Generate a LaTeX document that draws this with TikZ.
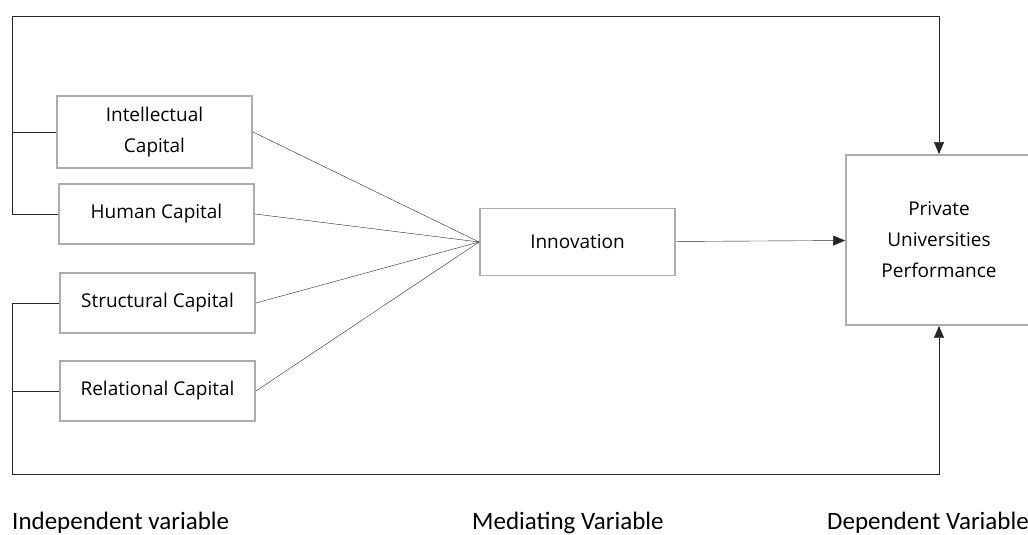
\documentclass[tikz,border=0pt]{standalone}
\usepackage{fontspec}
\setmainfont{Open Sans}
\newfontfamily\labelfont{Carlito}
\usetikzlibrary{positioning, arrows.meta}
\tikzset{x=1pt, y=-1pt, line width=1.5pt, >={Triangle[length=12pt,width=10pt]},
	every node/.style={font=\fontsize{19}{31}\selectfont},
	box/.style={draw=gray!65, line width=1.8pt, minimum width=195pt, minimum height=60pt, align=center, inner sep=0pt},
	link/.style={draw=black!85},
	caption/.style={font=\labelfont\fontsize{25}{30}\selectfont, anchor=base west, inner sep=0pt}}

\begin{document}
\begin{tikzpicture}
	\useasboundingbox (0,0) rectangle (1028,535);
	\node[box, minimum height=72pt] (Intellectual) at (154.5,132) {Intellectual\\Capital};
	\node[box] (Human) at (156.5,214) {Human Capital};
	\node[box] (Structural) at (157.5,303) {Structural Capital};
	\node[box] (Relational) at (157.5,391) {Relational Capital};
	\node[box, minimum height=67pt] (Innovation) at (577.5,242) {Innovation};
	\node[box, minimum width=186pt, minimum height=170pt] (Performance) at (939,240) {Private\\Universities\\Performance};
	
	\coordinate (top left) at (12,16);
	\coordinate (top right) at (939,16);
	\coordinate (bottom left) at (12,474);
	\coordinate (bottom right) at (939,474);
	
	\draw[link]	(Intellectual.east) edge (Innovation.west)
				(Human.east) edge (Innovation.west)
				(Structural.east) edge (Innovation.west)
				(Relational.east) edge (Innovation.west);
	\draw[link, ->] (Innovation) -- (Performance);
	\draw[link, ->] (Human.west) -| (top left) -- (top right) -- (Performance.north);
	\draw[link] (Intellectual.west) -- (Intellectual.west -| top left);
	\draw[link, ->] (Structural.west) -| (bottom left) -- (bottom right) -- (Performance.south);
	\draw[link] (Relational.west) -- (Relational.west -| bottom left);
	
	\node[caption] (Independent) at (12,529) {Independent variable};
	\node[caption] (Mediating) at (472,529) {Mediating Variable};
	\node[caption] (Dependent) at (827,529) {Dependent Variable};
\end{tikzpicture}
\end{document}
